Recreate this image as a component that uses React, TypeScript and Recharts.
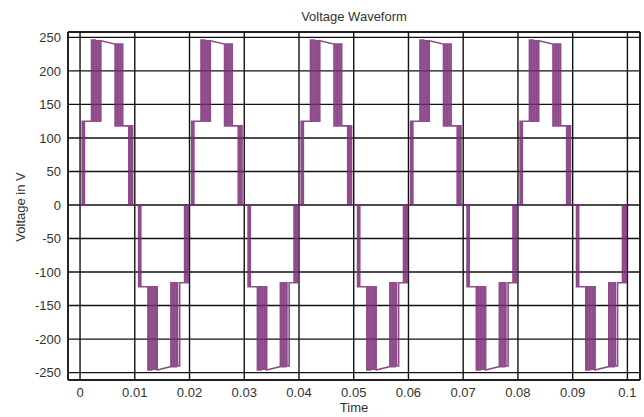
import { LineChart, Line, XAxis, YAxis, CartesianGrid, ReferenceLine } from 'recharts'

// cycle start times (s) — one full period every 0.02 s
const cycleStarts = [0, 0.02, 0.04, 0.06, 0.08]

// positive half-cycle vertices [time offset in cycle (s), voltage (V)]
const posHalf: [number, number][] = [
  [0, 0],
  [0.0004, 0], [0.0004, 125], [0.0005, 125], [0.0005, 0],
  [0.0006, 0], [0.0006, 125], [0.0007, 125], [0.0007, 0],
  [0.0008, 0], [0.0008, 125],
  [0.0021, 125], [0.0021, 246], [0.0023, 246], [0.0023, 125],
  [0.0025, 125], [0.0025, 246], [0.0028, 246], [0.0028, 125],
  [0.003, 125], [0.003, 245], [0.0033, 245], [0.0033, 125],
  [0.0035, 125], [0.0035, 245], [0.0036, 245], [0.0036, 125],
  [0.0038, 125], [0.0038, 245],
  [0.0064, 240], [0.0064, 118], [0.0066, 118], [0.0066, 240],
  [0.0069, 240], [0.0069, 118], [0.0071, 118], [0.0071, 240],
  [0.0074, 240], [0.0074, 118], [0.0075, 118], [0.0075, 240],
  [0.0078, 240], [0.0078, 118],
  [0.0089, 118], [0.0089, 0], [0.0091, 0], [0.0091, 118],
  [0.0093, 118], [0.0093, 0], [0.0094, 0], [0.0094, 118],
  [0.0096, 118], [0.0096, 0],
]

// negative half-cycle vertices [time offset in cycle (s), voltage (V)]
const negHalf: [number, number][] = [
  [0.0103, 0],
  [0.0107, 0], [0.0107, -122], [0.0108, -122], [0.0108, 0],
  [0.0109, 0], [0.0109, -122], [0.011, -122], [0.011, 0],
  [0.0111, 0], [0.0111, -122],
  [0.0124, -122], [0.0124, -246], [0.0126, -246], [0.0126, -122],
  [0.0128, -122], [0.0128, -246], [0.0131, -246], [0.0131, -122],
  [0.0133, -122], [0.0133, -245], [0.0136, -245], [0.0136, -122],
  [0.0138, -122], [0.0138, -245], [0.0139, -245], [0.0139, -122],
  [0.0141, -122], [0.0141, -246],
  [0.0166, -241], [0.0166, -116], [0.0168, -116], [0.0168, -241],
  [0.0171, -241], [0.0171, -116], [0.0173, -116], [0.0173, -241],
  [0.0176, -241], [0.0176, -116], [0.0178, -116], [0.0178, -240],
  [0.0182, -240], [0.0182, -116],
  [0.0191, -116], [0.0191, 0], [0.0193, 0], [0.0193, -116],
  [0.0195, -116], [0.0195, 0], [0.0196, 0], [0.0196, -116],
  [0.0198, -116], [0.0198, 0],
]

const xTicks = [0, 0.01, 0.02, 0.03, 0.04, 0.05, 0.06, 0.07, 0.08, 0.09, 0.1]
const yTicks = [-250, -200, -150, -100, -50, 0, 50, 100, 150, 200, 250]

const data: { t: number; v: number }[] = []
cycleStarts.forEach((c) => {
  posHalf.forEach(([t, v]) => data.push({ t: c + t, v }))
  negHalf.forEach(([t, v]) => data.push({ t: c + t, v }))
})
data.push({ t: 0.1, v: 0 })

const FONT = '"Liberation Sans", Arial, sans-serif'
const TXT = '#333'
const GRID = '#111'
const X0 = -0.0022
const X1 = 0.1023
const Y0 = -261
const Y1 = 258

export default function App() {
  return (
    <div style={{ position: 'absolute', left: 0, top: 0, width: 644, height: 417, background: '#fff', fontFamily: FONT }}>
      <div style={{ position: 'absolute', left: 254, width: 200, top: 9, textAlign: 'center', fontSize: 13, color: TXT }}>
        Voltage Waveform
      </div>
      <div style={{ position: 'absolute', left: 254, width: 200, top: 400, textAlign: 'center', fontSize: 13, color: TXT }}>
        Time
      </div>
      <div style={{ position: 'absolute', left: 20, top: 207, width: 0, height: 0 }}>
        <div style={{ position: 'absolute', transform: 'translate(-50%, -50%) rotate(-90deg)', whiteSpace: 'nowrap', fontSize: 13, color: TXT }}>
          Voltage in V
        </div>
      </div>
      <LineChart width={644} height={417} data={data} margin={{ top: 32, right: 4, bottom: 17, left: 28 }}>
        <CartesianGrid stroke={GRID} strokeWidth={1.4} />
        <XAxis
          type="number"
          dataKey="t"
          domain={[X0, X1]}
          ticks={xTicks}
          allowDataOverflow
          axisLine={false}
          tickLine={false}
          height={20}
          tickMargin={2}
          tick={{ fontFamily: FONT, fontSize: 13, fill: TXT }}
          tickFormatter={(v) => String(v)}
        />
        <YAxis
          type="number"
          domain={[Y0, Y1]}
          ticks={yTicks}
          allowDataOverflow
          axisLine={false}
          tickLine={false}
          width={40}
          tickMargin={1}
          tick={{ fontFamily: FONT, fontSize: 13, fill: TXT }}
        />
        <ReferenceLine x={X0} stroke={GRID} strokeWidth={1.4} />
        <ReferenceLine x={X1} stroke={GRID} strokeWidth={1.4} />
        <ReferenceLine y={Y0} stroke={GRID} strokeWidth={1.4} />
        <ReferenceLine y={Y1} stroke={GRID} strokeWidth={1.4} />
        <Line
          type="linear"
          dataKey="v"
          stroke="#7b2d78"
          strokeWidth={1.6}
          strokeOpacity={0.85}
          dot={false}
          isAnimationActive={false}
        />
      </LineChart>
    </div>
  )
}
